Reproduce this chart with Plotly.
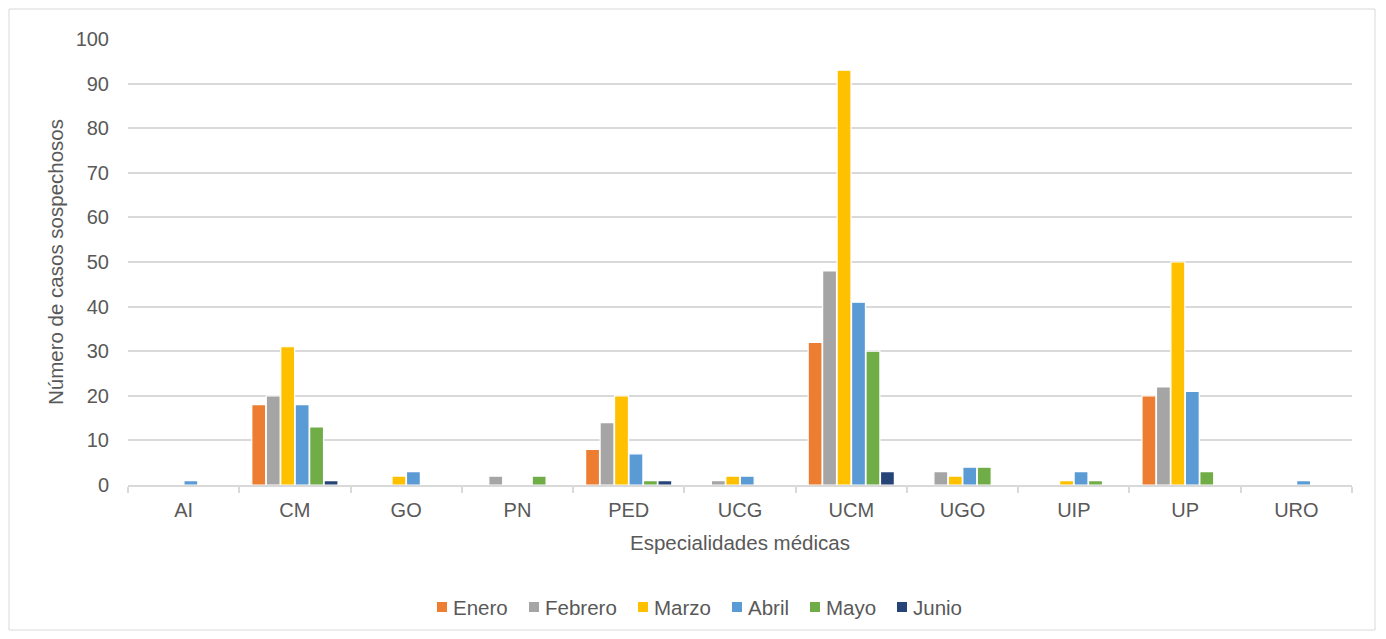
import plotly.graph_objects as go

# Especialidades médicas y casos sospechosos por mes
especialidades = ["AI", "CM", "GO", "PN", "PED", "UCG", "UCM", "UGO", "UIP", "UP", "URO"]

enero   = [0, 18, 0, 0, 8, 0, 32, 0, 0, 20, 0]
febrero = [0, 20, 0, 2, 14, 1, 48, 3, 0, 22, 0]
marzo   = [0, 31, 2, 0, 20, 2, 93, 2, 1, 50, 0]
abril   = [1, 18, 3, 0, 7, 2, 41, 4, 3, 21, 1]
mayo    = [0, 13, 0, 2, 1, 0, 30, 4, 1, 3, 0]
junio   = [0, 1, 0, 0, 1, 0, 3, 0, 0, 0, 0]

meses = ["Enero", "Febrero", "Marzo", "Abril", "Mayo", "Junio"]
series = [enero, febrero, marzo, abril, mayo, junio]
colores = ["#ED7D31", "#A5A5A5", "#FFC000", "#5B9BD5", "#70AD47", "#264478"]

FONT = "Liberation Sans, Arial, sans-serif"
TXT = "#595959"
GRID = "#D9D9D9"

fig = go.Figure()
for nombre, valores, color in zip(meses, series, colores):
    fig.add_trace(go.Bar(
        x=especialidades, y=valores, name=nombre, showlegend=False,
        marker=dict(color=color, line=dict(color="white", width=1.2)),
    ))

W, H = 1386, 639
L, R, T, B = 128, 34, 39, 154
pw, ph = W - L - R, H - T - B

def px_x(x):
    return (x - L) / pw

def px_y(y):
    return (H - B - y) / ph

# Leyenda: cuadro de color + texto, en fila bajo el eje
leyenda_x = [437, 529, 638, 732, 810, 897]
leyenda_y = 607
shapes = [dict(
    type="rect", xref="paper", yref="paper",
    x0=px_x(9), x1=px_x(1375), y0=px_y(630), y1=px_y(9),
    line=dict(color=GRID, width=1), fillcolor="rgba(0,0,0,0)", layer="below",
)]
annotations = []
for nombre, color, lx in zip(meses, colores, leyenda_x):
    shapes.append(dict(
        type="rect", xref="paper", yref="paper",
        x0=px_x(lx), x1=px_x(lx + 10), y0=px_y(leyenda_y + 5), y1=px_y(leyenda_y - 5),
        line=dict(width=0), fillcolor=color,
    ))
    annotations.append(dict(
        text=nombre, xref="paper", yref="paper",
        x=px_x(lx + 14), y=px_y(leyenda_y), xanchor="left", yanchor="middle",
        showarrow=False, font=dict(family=FONT, color=TXT, size=20.5),
    ))

fig.update_layout(
    width=W, height=H,
    margin=dict(l=L, r=R, t=T, b=B),
    paper_bgcolor="white", plot_bgcolor="white",
    barmode="group", bargap=0.22, bargroupgap=0.04,
    font=dict(family=FONT, color=TXT, size=20),
    showlegend=False,
    xaxis=dict(
        type="category",
        showgrid=False,
        showline=True, linecolor=GRID, linewidth=1.5,
        ticks="outside", tickson="boundaries", ticklen=6, tickcolor=GRID, tickwidth=1.5,
        ticklabelstandoff=6,
        tickfont=dict(family=FONT, color=TXT, size=20),
        title=dict(text="Especialidades médicas", font=dict(family=FONT, color=TXT, size=20.5), standoff=16),
    ),
    yaxis=dict(
        range=[0, 100], dtick=10,
        showgrid=True, gridcolor=GRID, gridwidth=1.5,
        zeroline=False, showline=False,
        ticks="", ticklabelstandoff=18,
        tickfont=dict(family=FONT, color=TXT, size=20),
        title=dict(text="Número de casos sospechosos", font=dict(family=FONT, color=TXT, size=20.5), standoff=6),
    ),
    shapes=shapes,
    annotations=annotations,
)

fig.write_html("out.html")
